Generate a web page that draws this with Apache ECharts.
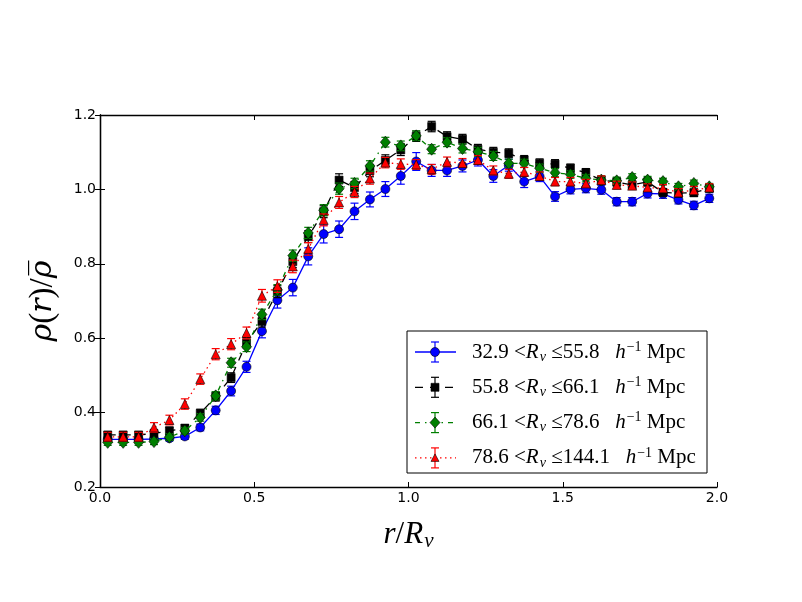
<!DOCTYPE html>
<html>
<head>
<meta charset="utf-8">
<script src="https://cdn.jsdelivr.net/npm/echarts@6/dist/echarts.min.js"></script>
<style>
html, body { margin: 0; padding: 0; background: #fff; }
#chart { width: 802px; height: 602px; }
</style>
</head>
<body>
<div id="chart"></div>
<script>
// centros de los bines en r/Rv
const rCentros = [0.025, 0.075, 0.125, 0.175, 0.225, 0.275, 0.325, 0.375, 0.425, 0.475,
    0.525, 0.575, 0.625, 0.675, 0.725, 0.775, 0.825, 0.875, 0.925, 0.975,
    1.025, 1.075, 1.125, 1.175, 1.225, 1.275, 1.325, 1.375, 1.425, 1.475,
    1.525, 1.575, 1.625, 1.675, 1.725, 1.775, 1.825, 1.875, 1.925, 1.975];

// 32.9 < Rv <= 55.8
const densAzul = [0.328, 0.328, 0.328, 0.329, 0.331, 0.336, 0.360, 0.406, 0.458, 0.523,
    0.619, 0.702, 0.736, 0.820, 0.880, 0.893, 0.941, 0.973, 1.001, 1.036,
    1.075, 1.051, 1.051, 1.063, 1.079, 1.036, 1.065, 1.021, 1.035, 0.981,
    1.000, 1.003, 0.999, 0.967, 0.967, 0.989, 0.988, 0.972, 0.957, 0.976];
const errAzul = [0.007, 0.007, 0.007, 0.007, 0.007, 0.008, 0.009, 0.011, 0.013, 0.015,
    0.018, 0.021, 0.022, 0.023, 0.024, 0.022, 0.022, 0.020, 0.020, 0.022,
    0.024, 0.016, 0.016, 0.016, 0.016, 0.017, 0.016, 0.016, 0.014, 0.013,
    0.012, 0.012, 0.012, 0.011, 0.011, 0.012, 0.012, 0.011, 0.011, 0.011];

// 55.8 < Rv <= 66.1
const densNegro = [0.340, 0.340, 0.340, 0.344, 0.351, 0.358, 0.398, 0.443, 0.494, 0.588,
    0.645, 0.725, 0.806, 0.873, 0.940, 1.025, 1.005, 1.050, 1.078, 1.106,
    1.143, 1.169, 1.142, 1.135, 1.108, 1.100, 1.097, 1.079, 1.070, 1.068,
    1.057, 1.045, 1.025, 1.020, 1.012, 1.020, 0.992, 0.990, 0.991, 1.003];
const errNegro = [0.009, 0.009, 0.009, 0.009, 0.010, 0.010, 0.011, 0.012, 0.013, 0.014,
    0.015, 0.016, 0.016, 0.016, 0.016, 0.017, 0.016, 0.016, 0.015, 0.015,
    0.014, 0.014, 0.013, 0.013, 0.013, 0.013, 0.012, 0.012, 0.012, 0.012,
    0.011, 0.011, 0.011, 0.011, 0.011, 0.011, 0.010, 0.010, 0.010, 0.010];

// 66.1 < Rv <= 78.6
const densVerde = [0.320, 0.320, 0.320, 0.322, 0.334, 0.351, 0.387, 0.445, 0.534, 0.577,
    0.664, 0.730, 0.822, 0.883, 0.944, 1.002, 1.016, 1.063, 1.127, 1.117,
    1.144, 1.108, 1.127, 1.110, 1.101, 1.090, 1.070, 1.070, 1.057, 1.045,
    1.040, 1.030, 1.025, 1.023, 1.032, 1.025, 1.021, 1.007, 1.016, 1.007];
const errVerde = [0.008, 0.008, 0.008, 0.008, 0.009, 0.009, 0.010, 0.011, 0.012, 0.013,
    0.014, 0.014, 0.015, 0.015, 0.015, 0.015, 0.014, 0.014, 0.013, 0.013,
    0.013, 0.012, 0.012, 0.012, 0.012, 0.012, 0.011, 0.011, 0.011, 0.011,
    0.010, 0.010, 0.010, 0.010, 0.010, 0.010, 0.009, 0.009, 0.009, 0.009];

// 78.6 < Rv <= 144.1
const densRojo = [0.335, 0.335, 0.335, 0.360, 0.380, 0.423, 0.490, 0.557, 0.584, 0.614,
    0.714, 0.740, 0.793, 0.840, 0.918, 0.965, 0.993, 1.029, 1.072, 1.068,
    1.067, 1.054, 1.074, 1.071, 1.079, 1.051, 1.042, 1.047, 1.036, 1.021,
    1.021, 1.016, 1.025, 1.012, 1.010, 1.005, 1.003, 0.992, 0.998, 1.005];
const errRojo = [0.012, 0.012, 0.012, 0.013, 0.013, 0.014, 0.014, 0.015, 0.015, 0.016,
    0.017, 0.017, 0.017, 0.017, 0.016, 0.016, 0.015, 0.015, 0.014, 0.014,
    0.013, 0.013, 0.013, 0.012, 0.012, 0.012, 0.012, 0.012, 0.011, 0.011,
    0.011, 0.011, 0.011, 0.010, 0.010, 0.010, 0.010, 0.010, 0.010, 0.010];

const ticksX = [0.0, 0.5, 1.0, 1.5, 2.0];
const ticksY = [0.2, 0.4, 0.6, 0.8, 1.0, 1.2];

const etiquetas = [
    { lo: '32.9', hi: '55.8' },
    { lo: '55.8', hi: '66.1' },
    { lo: '66.1', hi: '78.6' },
    { lo: '78.6', hi: '144.1' }
];

const grupos = [
    { dens: densAzul, err: errAzul, color: '#0000ff', simbolo: 'circle', tam: 9, linea: 'solid' },
    { dens: densNegro, err: errNegro, color: '#000000', simbolo: 'rect', tam: 8, linea: [8, 7] },
    { dens: densVerde, err: errVerde, color: '#007f00', simbolo: 'diamond', tam: [10, 12], linea: [5, 5, 1.5, 5] },
    { dens: densRojo, err: errRojo, color: '#ff0000', simbolo: 'triangle', tam: 9, linea: [1.5, 3.5] }
];

const serif = 'Liberation Serif';

function dibujarError(params, api) {
    const x = api.value(0);
    const arriba = api.coord([x, api.value(2)]);
    const abajo = api.coord([x, api.value(1)]);
    const c = api.visual('color');
    const w = 4;
    const estilo = { stroke: c, lineWidth: 1.2 };
    return {
        type: 'group',
        children: [
            { type: 'line', shape: { x1: arriba[0], y1: arriba[1], x2: abajo[0], y2: abajo[1] }, style: estilo },
            { type: 'line', shape: { x1: arriba[0] - w, y1: arriba[1], x2: arriba[0] + w, y2: arriba[1] }, style: estilo },
            { type: 'line', shape: { x1: abajo[0] - w, y1: abajo[1], x2: abajo[0] + w, y2: abajo[1] }, style: estilo }
        ]
    };
}

function textoLeyenda(e) {
    return '{n|' + e.lo + ' <}{i|R}{sb|v}{n| \u2264' + e.hi + '   }{i|h}{sp|\u22121}{n| Mpc}';
}

const richLeyenda = {
    n: { fontFamily: serif, fontSize: 21, color: '#000' },
    i: { fontFamily: serif, fontSize: 21, fontStyle: 'italic', color: '#000' },
    sb: { fontFamily: serif, fontSize: 14, fontStyle: 'italic', color: '#000', padding: [10, 0, 0, 1] },
    sp: { fontFamily: serif, fontSize: 14, color: '#000', padding: [0, 0, 10, 1] }
};

// leyenda dibujada a mano (lleva barra de error)
function armarLeyenda() {
    const elementos = [{
        type: 'rect', shape: { x: 407, y: 331, width: 300, height: 142 },
        style: { fill: '#fff', stroke: '#000', lineWidth: 1 }, z: 50
    }];
    grupos.forEach((g, k) => {
        const y = 352 + k * 35.3;
        const cx = 435;
        elementos.push({
            type: 'line', shape: { x1: 415, y1: y, x2: 456, y2: y },
            style: { stroke: g.color, lineWidth: 1.3, lineDash: g.linea === 'solid' ? null : g.linea }, z: 51
        });
        const eb = { stroke: g.color, lineWidth: 1.2 };
        elementos.push({ type: 'line', shape: { x1: cx, y1: y - 10, x2: cx, y2: y + 10 }, style: eb, z: 51 });
        elementos.push({ type: 'line', shape: { x1: cx - 4, y1: y - 10, x2: cx + 4, y2: y - 10 }, style: eb, z: 51 });
        elementos.push({ type: 'line', shape: { x1: cx - 4, y1: y + 10, x2: cx + 4, y2: y + 10 }, style: eb, z: 51 });
        const m = { fill: g.color, stroke: '#000', lineWidth: 0.6 };
        if (g.simbolo === 'circle') {
            elementos.push({ type: 'circle', shape: { cx: cx, cy: y, r: 4.5 }, style: m, z: 52 });
        } else if (g.simbolo === 'rect') {
            elementos.push({ type: 'rect', shape: { x: cx - 4, y: y - 4, width: 8, height: 8 }, style: m, z: 52 });
        } else if (g.simbolo === 'diamond') {
            elementos.push({ type: 'polygon', shape: { points: [[cx, y - 5.5], [cx + 5, y], [cx, y + 5.5], [cx - 5, y]] }, style: m, z: 52 });
        } else {
            elementos.push({ type: 'polygon', shape: { points: [[cx, y - 4], [cx + 4, y + 3.5], [cx - 4, y + 3.5]] }, style: m, z: 52 });
        }
        elementos.push({
            type: 'text', x: 472, y: y, z: 52,
            style: { text: textoLeyenda(etiquetas[k]), rich: richLeyenda, verticalAlign: 'middle', align: 'left' }
        });
    });
    return elementos;
}

function getOptionChart() {
    const series = [];
    grupos.forEach((g, k) => {
        series.push({
            type: 'custom',
            name: 'err' + k,
            renderItem: dibujarError,
            data: rCentros.map((r, j) => [r, g.dens[j] - g.err[j], g.dens[j] + g.err[j]]),
            encode: { x: 0, y: [1, 2] },
            itemStyle: { color: g.color },
            z: 2 + k,
            silent: true
        });
        series.push({
            type: 'line',
            name: etiquetas[k].lo,
            data: rCentros.map((r, j) => [r, g.dens[j]]),
            symbol: g.simbolo,
            symbolSize: g.tam,
            showAllSymbol: true,
            lineStyle: { color: g.color, width: 1.3, type: g.linea },
            itemStyle: { color: g.color, borderColor: '#000', borderWidth: 0.6 },
            z: 2 + k,
            silent: true
        });
    });

    const ejeComun = {
        type: 'value',
        axisLine: { show: true, lineStyle: { color: '#000', width: 1.3 } },
        axisTick: { show: true, inside: true, length: 5, lineStyle: { color: '#000', width: 1 } },
        splitLine: { show: false }
    };

    return {
        animation: false,
        backgroundColor: '#fff',
        grid: { left: 100, right: 85, top: 115, bottom: 115 },
        xAxis: [
            Object.assign({}, ejeComun, {
                min: ticksX[0], max: ticksX[ticksX.length - 1], interval: 0.5,
                position: 'bottom',
                axisLabel: { margin: 4, color: '#000', fontFamily: 'DejaVu Sans', fontSize: 14, formatter: v => v.toFixed(1) },
                name: '{i|r}{n|/}{i|R}{sb|v}',
                nameLocation: 'middle', nameGap: 30,
                nameTextStyle: {
                    rich: {
                        i: { fontFamily: serif, fontSize: 31, fontStyle: 'italic', color: '#000' },
                        n: { fontFamily: serif, fontSize: 31, color: '#000' },
                        sb: { fontFamily: serif, fontSize: 21, fontStyle: 'italic', color: '#000', padding: [14, 0, 0, 1] }
                    }
                }
            }),
            Object.assign({}, ejeComun, {
                min: ticksX[0], max: ticksX[ticksX.length - 1], interval: 0.5,
                position: 'top', axisLabel: { show: false }
            })
        ],
        yAxis: [
            Object.assign({}, ejeComun, {
                min: ticksY[0], max: ticksY[ticksY.length - 1], interval: 0.2,
                position: 'left',
                axisLabel: { margin: 4, color: '#000', fontFamily: 'DejaVu Sans', fontSize: 14, formatter: v => v.toFixed(1) },
                name: '{i|\u03c1}{n|(}{i|r}{n|)/}{i|\u03c1\u0305}',
                nameLocation: 'middle', nameGap: 40, nameRotate: 90,
                nameTextStyle: {
                    rich: {
                        i: { fontFamily: 'DejaVu Serif', fontSize: 30, fontStyle: 'italic', color: '#000' },
                        n: { fontFamily: serif, fontSize: 33, color: '#000' }
                    }
                }
            }),
            Object.assign({}, ejeComun, {
                min: ticksY[0], max: ticksY[ticksY.length - 1], interval: 0.2,
                position: 'right', axisLabel: { show: false }
            })
        ],
        series: series,
        graphic: armarLeyenda()
    };
}

const chart = echarts.init(document.getElementById("chart"));
chart.setOption(getOptionChart());
</script>
</body>
</html>
